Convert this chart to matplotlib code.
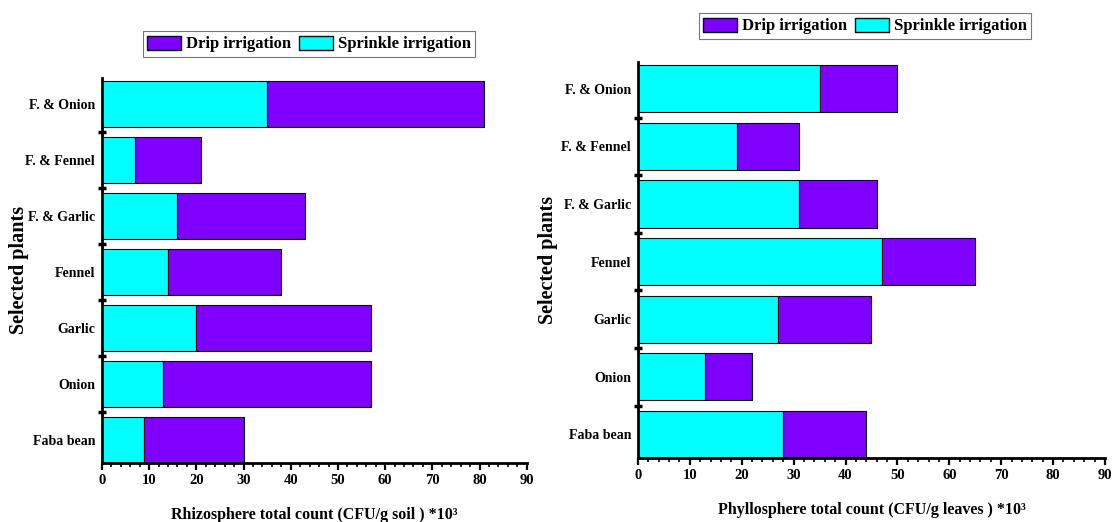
import matplotlib
matplotlib.use('Agg')
import matplotlib.pyplot as plt
import matplotlib.patches as mpatches
import numpy as np

plt.rcParams['font.family'] = ['Liberation Serif', 'DejaVu Serif']
plt.rcParams['font.weight'] = 'bold'

# bottom to top
plants = ['Faba bean', 'Onion', 'Garlic', 'Fennel', 'F. & Garlic', 'F. & Fennel', 'F. & Onion']

# Rhizosphere (CFU/g soil) *10^3
rhizo_sprinkle = [9, 13, 20, 14, 16, 7, 35]
rhizo_drip = [21, 44, 37, 24, 27, 14, 46]

# Phyllosphere (CFU/g leaves) *10^3
phyllo_sprinkle = [28, 13, 27, 47, 31, 19, 35]
phyllo_drip = [16, 9, 18, 18, 15, 12, 15]

x_ticks = [0, 10, 20, 30, 40, 50, 60, 70, 80, 90]

CYAN = '#00FFFF'
PURPLE = '#8000FF'

fig = plt.figure(figsize=(11.12, 5.22), dpi=100)
fig.patch.set_facecolor('white')


def draw_panel(rect, sprinkle, drip, xlabel, legend_box, ylabel_x):
    ax = fig.add_axes(rect)
    y = np.arange(len(plants))
    ax.barh(y, sprinkle, height=0.82, color=CYAN, edgecolor='black', linewidth=0.8)
    ax.barh(y, drip, left=sprinkle, height=0.82, color=PURPLE, edgecolor='black', linewidth=0.8)

    ax.set_xlim(0, 90)
    ax.set_ylim(-0.41, 6.46)
    for side in ('top', 'right'):
        ax.spines[side].set_visible(False)
    for side in ('left', 'bottom'):
        ax.spines[side].set_linewidth(2)

    ax.set_xticks(x_ticks)
    ax.set_xticks(np.arange(0, 91, 2), minor=True)
    ax.tick_params(axis='x', which='major', length=5, width=1.6, direction='out', labelsize=10.5, pad=3)
    ax.tick_params(axis='x', which='minor', length=3, width=1.2, direction='out')

    # category boundaries get the ticks, names sit at bar centres
    ax.set_yticks(np.arange(0.5, len(plants) - 1, 1))
    ax.set_yticklabels([])
    ax.set_yticks(y, minor=True)
    ax.set_yticklabels(plants, minor=True)
    ax.tick_params(axis='y', which='major', length=6, width=2.5, direction='inout')
    ax.tick_params(axis='y', which='minor', length=0, labelsize=10, pad=5)

    for lab in ax.get_xticklabels() + ax.get_yticklabels(minor=True):
        lab.set_fontweight('bold')

    ax.set_xlabel(xlabel, fontsize=11.5, fontweight='bold', labelpad=14)
    fig.text(ylabel_x, rect[1] + rect[3] / 2, 'Selected plants', rotation=90,
             ha='center', va='center', fontsize=14.5, fontweight='bold')

    handles = [mpatches.Patch(facecolor=PURPLE, edgecolor='black', label='Drip irrigation'),
               mpatches.Patch(facecolor=CYAN, edgecolor='black', label='Sprinkle irrigation')]
    leg = fig.legend(handles=handles, loc='center', bbox_to_anchor=legend_box, ncol=2,
                     frameon=True, fancybox=False, edgecolor='#555555',
                     prop={'weight': 'bold', 'size': 12}, handlelength=2.0,
                     handleheight=0.95, handletextpad=0.3, columnspacing=0.5,
                     borderpad=0.25)
    leg.get_frame().set_linewidth(0.8)
    return ax


draw_panel([0.0917, 0.113, 0.382, 0.738], rhizo_sprinkle, rhizo_drip,
           'Rhizosphere total count (CFU/g soil ) *10³',
           (309 / 1112, 1 - 44 / 522), 0.017)
draw_panel([0.5737, 0.1226, 0.42, 0.758], phyllo_sprinkle, phyllo_drip,
           'Phyllosphere total count (CFU/g leaves ) *10³',
           (865 / 1112, 1 - 26 / 522), 0.493)

fig.savefig('out.png', dpi=100)
